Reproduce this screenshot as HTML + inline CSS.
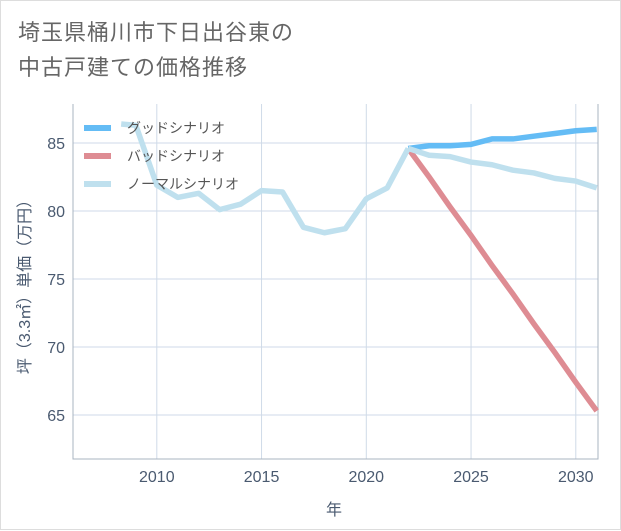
<!DOCTYPE html>
<html><head><meta charset="utf-8"><style>
body{margin:0;background:#fff;}
#wrap{position:relative;width:619px;height:528px;border:1px solid #ddd;background:#fff;font-family:"Liberation Sans","Noto Sans CJK JP",sans-serif;}
#title{position:absolute;left:17px;top:14px;font-size:22px;line-height:35px;color:#666;letter-spacing:1px;}
svg{position:absolute;left:0;top:0;}
</style></head><body>
<div id="wrap">
<div id="title">埼玉県桶川市下日出谷東の<br>中古戸建ての価格推移</div>
<svg id="chart" width="621" height="530"></svg>
</div>
<script>
const histYears=[2008.3,2009,2010,2011,2012,2013,2014,2015,2016,2017,2018,2019,2020,2021,2022];
const histValues=[86.4,86.3,81.9,81.0,81.3,80.1,80.5,81.5,81.4,78.8,78.4,78.7,80.9,81.7,84.6];
const futYears=[2022,2023,2024,2025,2026,2027,2028,2029,2030,2031];
const goodValues=[84.6,84.8,84.8,84.9,85.3,85.3,85.5,85.7,85.9,86.0];
const badValues=[84.6,82.5,80.3,78.2,76.0,73.9,71.7,69.6,67.4,65.3];
const normalValues=[84.6,84.1,84.0,83.6,83.4,83.0,82.8,82.4,82.2,81.7];
const xTicks=[2010,2015,2020,2025,2030];
const yTicks=[65,70,75,80,85];
const L=72,R=597,T=103,B=458;
const X=v=>L+(v-2006)*(R-L)/(2031.06-2006);
const Y=v=>142+(85-v)*13.6;
const svg=document.getElementById('chart');
const NS='http://www.w3.org/2000/svg';
function mk(tag,attrs){const e=document.createElementNS(NS,tag);for(const k in attrs)e.setAttribute(k,attrs[k]);svg.appendChild(e);return e;}
xTicks.forEach(t=>{const g=mk('line',{x1:X(t),x2:X(t),y1:T,y2:B,stroke:'#cfdae8','stroke-width':1});


const tx=mk('text',{x:X(t),y:B+23,'text-anchor':'middle','font-size':16,fill:'#4a5a70'});tx.textContent=t;

});
yTicks.forEach(t=>{const g=mk('line',{x1:L,x2:R,y1:Y(t),y2:Y(t),stroke:'#cfdae8','stroke-width':1});


const tx=mk('text',{x:L-8,y:Y(t)+6,'text-anchor':'end','font-size':16,fill:'#4a5a70'});tx.textContent=t;

});
const ax=mk('polyline',{points:`${L},${T} ${L},${B} ${R},${B} ${R},${T}`,fill:'none',stroke:'#aab4c0','stroke-width':1});


function line(xs,ys,color,name){const p=mk('polyline',{points:xs.map((x,i)=>X(x)+','+Y(ys[i])).join(' '),fill:'none',stroke:color,'stroke-width':5.5,'stroke-linejoin':'round'});

}
line(futYears,badValues,'#de8c93','bad-scenario-line');
line(futYears,goodValues,'#64bcf5','good-scenario-line');
line(histYears,histValues,'#bfe0ee','history-line');
line(futYears,normalValues,'#bfe0ee','normal-scenario-line');
const legend=[['グッドシナリオ','#64bcf5'],['バッドシナリオ','#de8c93'],['ノーマルシナリオ','#bfe0ee']];
legend.forEach((l,i)=>{const y=127+i*28;
const s=mk('line',{x1:83,x2:110,y1:y,y2:y,stroke:l[1],'stroke-width':6});


const t=mk('text',{x:126,y:y+5,'font-size':14,fill:'#555'});t.textContent=l[0];

});
const xt=mk('text',{x:333,y:514,'text-anchor':'middle','font-size':16,fill:'#4a5a70'});xt.textContent='年';


const yt=mk('text',{x:0,y:0,'text-anchor':'middle','font-size':16,fill:'#4a5a70',transform:'translate(29,282) rotate(-90)'});yt.textContent='坪（3.3㎡）単価（万円）';


</script>
</body></html>
